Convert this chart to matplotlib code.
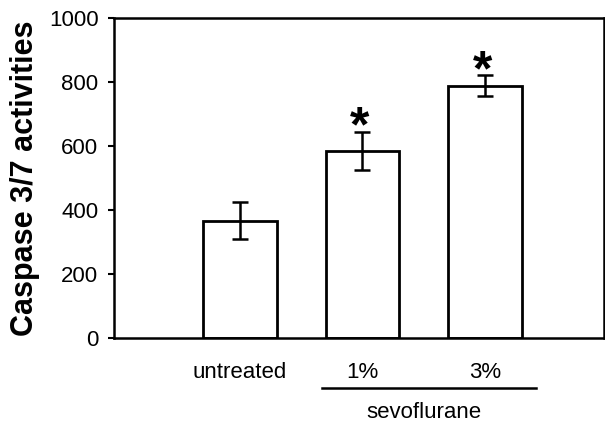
import matplotlib

matplotlib.use("Agg")
import matplotlib.pyplot as plt

# values
groups = ["untreated", "1%", "3%"]
means = [367, 584, 788]
errors = [58, 60, 33]
significant = [False, True, True]
yticks = [0, 200, 400, 600, 800, 1000]

plt.rcParams["font.family"] = ["Liberation Sans", "DejaVu Sans"]

fig = plt.figure(figsize=(6.05, 4.29), dpi=100)
ax = fig.add_axes([0.188, 0.212, 0.81, 0.746])

x = list(range(len(groups)))
ax.bar(x, means, width=0.6, color="white", edgecolor="black", linewidth=2)
ax.errorbar(x, means, yerr=errors, fmt="none", ecolor="black",
            elinewidth=1.8, capsize=5.5, capthick=1.8)

# significance stars, baseline set so the glyph sits just above the cap
for xi, m, e, sig in zip(x, means, errors, significant):
    if sig:
        ax.text(xi - 0.02, m + e - 30, "*", ha="center", va="baseline",
                fontsize=36, fontweight="bold")

ax.set_xlim(-1.03, 2.97)
ax.set_ylim(0, 1000)
ax.set_yticks(yticks)
ax.set_yticklabels([str(t) for t in yticks], fontsize=16)
ax.set_xticks(x)
ax.set_xticklabels(groups, fontsize=16)
ax.tick_params(axis="x", length=0, pad=17)
ax.tick_params(axis="y", length=4, width=1.5, pad=7)
for s in ax.spines.values():
    s.set_linewidth(1.8)

ax.set_ylabel("Caspase 3/7 activities", fontsize=22, fontweight="bold")
ax.yaxis.set_label_coords(-0.15, 0.5)

# bracket under the sevoflurane groups
ax.plot([0.67, 2.42], [-0.155, -0.155], transform=ax.get_xaxis_transform(),
        color="black", linewidth=1.8, clip_on=False)
ax.text(1.5, -0.234, "sevoflurane", transform=ax.get_xaxis_transform(),
        ha="center", va="center", fontsize=16)

fig.savefig("out.png", dpi=100)
